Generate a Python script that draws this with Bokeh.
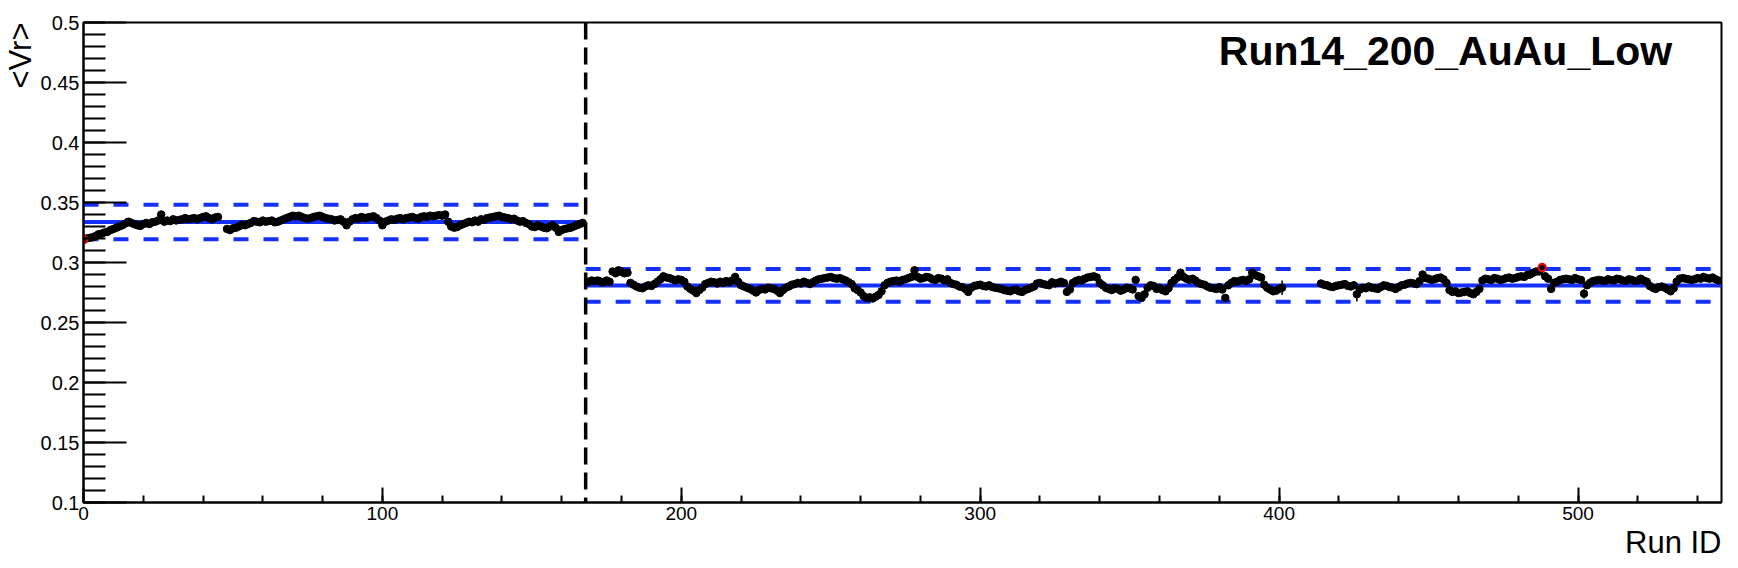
import math
import numpy as np
from bokeh.plotting import figure
from bokeh.models import (Range1d, FixedTicker, CustomJSTickFormatter, Span, Label, Title,
                          ColumnDataSource)
from bokeh.embed import file_html
from bokeh.resources import INLINE

nan = float("nan")

# ---------------- data ----------------
title_text = "Run14_200_AuAu_Low"
x_title = "Run ID"
y_title = "<Vr>"

x_ticks = [0, 100, 200, 300, 400, 500]
y_ticks = [0.1, 0.15, 0.2, 0.25, 0.3, 0.35, 0.4, 0.45, 0.5]

run_start_1 = 0
vr_period1 = [
    0.3190, 0.3200, 0.3205, 0.3210,
    0.322, 0.3235, 0.324, 0.325, 0.3255, 0.327, 0.328, 0.329, 0.330, 0.331, 0.3325, 0.334,
    0.333, 0.332, 0.331, 0.3305, 0.332, 0.333, 0.332, 0.3335, 0.334, 0.335,
    0.340,
    0.334, 0.335, 0.3345, 0.336, 0.335, 0.3355, 0.336, 0.337, 0.336, 0.3365, 0.337, 0.336, 0.337,
    0.338, 0.3385, 0.337, 0.336, 0.3375, 0.338,
    nan, nan,
    0.328, 0.327, 0.3285, 0.329, 0.330, 0.3315, 0.331,
    0.332, 0.333, 0.3345, 0.334, 0.3335, 0.335, 0.334, 0.3345, 0.335, 0.3335, 0.334, 0.335, 0.336,
    0.337, 0.338, 0.339, 0.3385, 0.339, 0.338, 0.337, 0.3365, 0.337, 0.338, 0.3385, 0.339, 0.338,
    0.337, 0.3365, 0.336, 0.335, 0.3355, 0.336, 0.334,
    0.331,
    0.334, 0.336, 0.337, 0.3365, 0.338, 0.337, 0.3375, 0.338, 0.3385, 0.337, 0.335,
    0.331,
    0.334, 0.335, 0.336, 0.3355, 0.3365, 0.337, 0.336, 0.337, 0.3375, 0.338, 0.337, 0.3365, 0.338,
    0.3385, 0.338, 0.339, 0.3385, 0.339, 0.3395, 0.339, 0.340,
    0.334, 0.330, 0.329, 0.3295, 0.331,
    0.332, 0.333, 0.334, 0.3335, 0.335, 0.334, 0.336, 0.3355, 0.337, 0.3375, 0.338, 0.3385, 0.339,
    0.338, 0.3375, 0.337, 0.336, 0.3365, 0.335, 0.334, 0.3345, 0.333, 0.332,
    0.330, 0.3295, 0.331, 0.330, 0.329, 0.3285, 0.330, 0.331, 0.329, 0.3255,
    0.327, 0.328, 0.3285, 0.329, 0.330, 0.331, 0.332, 0.333,
]

run_start_2 = 169
vr_period2 = [
    0.284, 0.285, 0.2845, 0.285, 0.284, 0.2835, 0.285, 0.284,
    0.2925, 0.291, 0.2935, 0.292, 0.291, 0.2915,
    0.283, 0.2815, 0.280, 0.279, 0.2785, 0.280, 0.281, 0.2805, 0.282,
    0.284, 0.286, 0.2885, 0.2875, 0.287, 0.286, 0.285, 0.286, 0.2855, 0.284,
    0.280, 0.278, 0.2765, 0.2745, 0.277, 0.279,
    0.282, 0.283, 0.284, 0.2835, 0.2825, 0.284, 0.283, 0.2845, 0.2835, 0.285, 0.288, 0.284,
    0.281, 0.280, 0.279, 0.278, 0.2765, 0.275, 0.277, 0.278, 0.2775, 0.279, 0.2785, 0.278,
    0.2765, 0.2745, 0.277, 0.279, 0.280, 0.2815,
    0.282, 0.283, 0.2825, 0.284, 0.283, 0.282, 0.2835,
    0.285, 0.286, 0.2865, 0.287, 0.2875, 0.288, 0.287, 0.2865, 0.287, 0.286, 0.285, 0.2835, 0.282,
    0.2785, 0.277, 0.275, 0.272, 0.2705, 0.271, 0.270, 0.2715, 0.273, 0.276,
    0.281, 0.283, 0.284, 0.2845, 0.285, 0.284, 0.2855, 0.286, 0.287, 0.288,
    0.2935,
    0.288, 0.2865, 0.287, 0.288, 0.2875, 0.286, 0.2855, 0.287, 0.2865, 0.285, 0.286,
    0.283, 0.282, 0.2815, 0.280, 0.2795, 0.278, 0.2755, 0.279, 0.2805, 0.281, 0.2815, 0.2805,
    0.280, 0.281, 0.2795, 0.279, 0.2785,
    0.278, 0.277, 0.2765, 0.276, 0.277, 0.2775, 0.276, 0.2755, 0.277, 0.278, 0.279, 0.280,
    0.2825, 0.283, 0.282, 0.2815, 0.281, 0.2835, 0.2825, 0.283, 0.284, 0.283,
    0.2755, 0.2775,
    0.283, 0.2845, 0.2855, 0.285, 0.2865, 0.2875, 0.288,
    0.2885, 0.2875,
    0.283, 0.281, 0.279, 0.278, 0.277, 0.2785, 0.278, 0.2765, 0.2775, 0.279, 0.2785, 0.2775,
    0.2855,
    0.272, 0.2705, 0.2735,
    0.279, 0.281, 0.2805, 0.278, 0.279, 0.277, 0.276, 0.2785,
    0.283, 0.2855, 0.2875, 0.2915, 0.288, 0.2865, 0.2855, 0.2865, 0.285,
    0.283, 0.282, 0.2815, 0.280, 0.279, 0.2785, 0.278, 0.2795, 0.2775, 0.2705, 0.281,
    0.283, 0.2845, 0.284, 0.285, 0.2855, 0.2845, 0.286, 0.2915, 0.2895, 0.2885, 0.2875,
    0.2815, 0.279, 0.2775, 0.276, 0.2765, 0.278,
    0.279,
    nan, nan, nan, nan, nan, nan, nan, nan, nan, nan, nan, nan,
    0.2825, 0.2815, 0.281, 0.280, 0.2795, 0.2805, 0.281, 0.2815, 0.282, 0.2805, 0.280, 0.281,
    0.2735, 0.2775, 0.279, 0.2785, 0.280, 0.279, 0.2785, 0.278, 0.2795, 0.281, 0.2805, 0.2795,
    0.279, 0.278, 0.2795, 0.281, 0.2815, 0.2825, 0.283, 0.2825, 0.282,
    0.2845, 0.290, 0.287, 0.2865, 0.2855, 0.286, 0.287, 0.2875, 0.286, 0.283,
    0.277, 0.2755, 0.276, 0.2745, 0.275, 0.2755, 0.276, 0.2745, 0.2735, 0.2755, 0.278,
    0.285, 0.2865, 0.286, 0.2855, 0.287, 0.2865, 0.2855, 0.286, 0.287, 0.2875, 0.2865, 0.287,
    0.288, 0.2885, 0.288, 0.2895, 0.290, 0.2915, 0.2925,
    0.2925, 0.2958,
    0.2885, 0.2865, 0.278,
    0.283, 0.284, 0.2855, 0.286, 0.2865, 0.286, 0.2855, 0.287, 0.286, 0.2855,
    0.274,
    0.281, 0.283, 0.2845, 0.285, 0.2855, 0.285, 0.2845, 0.286, 0.2855, 0.285, 0.2865, 0.286,
    0.285, 0.2845, 0.286, 0.2855, 0.2845, 0.285, 0.2865, 0.285, 0.284,
    0.2805, 0.279, 0.278, 0.2795, 0.280, 0.279, 0.2775, 0.276, 0.2785,
    0.284, 0.2865, 0.287, 0.2865, 0.286, 0.2855, 0.286, 0.287, 0.2865, 0.288, 0.287, 0.2865,
    0.2875, 0.286, 0.285,
]

err_typical = 0.0012
err_large = {173: 0.004, 357: 0.003, 389: 0.003, 401: 0.006, 426: 0.006, 502: 0.004, 458: 0.003}

period_edges = [0, 168, 548]
period_mean = [0.3337, 0.2809]
period_band = [0.0144, 0.0137]
split_run = 168

# ---------------- build ----------------
runs, vals = [], []
for start, arr in ((run_start_1, vr_period1), (run_start_2, vr_period2)):
    for i, v in enumerate(arr):
        if not math.isnan(v):
            runs.append(start + i)
            vals.append(v)
runs = np.array(runs, dtype=float)
vals = np.array(vals)
errs = np.array([err_large.get(int(r), err_typical) for r in runs])

outlier = np.zeros(len(runs), dtype=bool)
for k in range(len(period_mean)):
    m = (runs >= period_edges[k]) & (runs < period_edges[k + 1])
    outlier |= m & (np.abs(vals - period_mean[k]) > period_band[k])

font = "Liberation Sans"
W, H = 1730, 568
p = figure(width=W, height=H, output_backend="svg", toolbar_location=None,
           x_range=Range1d(period_edges[0], period_edges[-1]), y_range=Range1d(y_ticks[0], y_ticks[-1]),
           min_border_left=83, min_border_right=9, min_border_top=22, min_border_bottom=66)
p.title = None
p.xgrid.visible = False
p.ygrid.visible = False
p.outline_line_color = "black"
p.outline_line_width = 2
p.background_fill_color = "white"
p.border_fill_color = "white"

xa = p.xaxis[0]
xa.ticker = FixedTicker(ticks=x_ticks, minor_ticks=list(range(0, 548, 20)))
xa.major_tick_in = 15
xa.major_tick_out = 0
xa.minor_tick_in = 7
xa.minor_tick_out = 0
xa.axis_line_width = 2
xa.axis_line_color = "black"
xa.major_tick_line_color = "black"
xa.minor_tick_line_color = "black"
xa.major_tick_line_width = 2
xa.minor_tick_line_width = 2
xa.major_label_text_font = font
xa.major_label_text_font_size = "19px"
xa.major_label_text_color = "black"
xa.major_label_standoff = 4

ya = p.yaxis[0]
ya.ticker = FixedTicker(ticks=y_ticks, minor_ticks=[round(0.1 + 0.01 * i, 2) for i in range(41)])
ya.formatter = CustomJSTickFormatter(code="return String(Math.round(tick*100)/100)")
ya.major_tick_in = 43
ya.major_tick_out = 0
ya.minor_tick_in = 22
ya.minor_tick_out = 0
ya.axis_line_width = 2
ya.axis_line_color = "black"
ya.major_tick_line_color = "black"
ya.minor_tick_line_color = "black"
ya.major_tick_line_width = 2
ya.minor_tick_line_width = 2
ya.major_label_text_font = font
ya.major_label_text_font_size = "20px"
ya.major_label_text_color = "black"
ya.major_label_standoff = 4

p.add_layout(Title(text=x_title, align="right", text_font=font, text_font_size="31px",
                   text_font_style="normal", text_color="black", standoff=0), "below")
p.add_layout(Title(text=y_title, align="right", text_font=font, text_font_size="31px",
                   text_font_style="normal", text_color="black", standoff=0), "left")

blue = "#1430ff"
seg = ColumnDataSource(dict(
    x0=period_edges[:-1], x1=period_edges[1:], m=period_mean,
    lo=[a - b for a, b in zip(period_mean, period_band)],
    hi=[a + b for a, b in zip(period_mean, period_band)],
))
p.segment("x0", "m", "x1", "m", source=seg, line_color=blue, line_width=4)
p.segment("x0", "hi", "x1", "hi", source=seg, line_color=blue, line_width=4, line_dash="15 15")
p.segment("x0", "lo", "x1", "lo", source=seg, line_color=blue, line_width=4, line_dash="15 15")

p.add_layout(Span(location=split_run, dimension="height", line_color="black",
                  line_width=3.5, line_dash="17 8"))

src = ColumnDataSource(dict(x=runs, y=vals, lo=vals - errs, hi=vals + errs))
p.segment("x", "lo", "x", "hi", source=src, line_color="black", line_width=1.5)
p.scatter("x", "y", source=src, marker="circle", size=7.5, fill_color="black", line_color="black")

osrc = ColumnDataSource(dict(x=runs[outlier], y=vals[outlier]))
p.scatter("x", "y", source=osrc, marker="circle", size=7.5, fill_color=None, line_color="red", line_width=2)

p.add_layout(Label(x=531.5, y=0.4765, text=title_text, text_align="right", text_baseline="alphabetic",
                   text_font=font, text_font_style="bold", text_font_size="41px", text_color="black"))

open("out.html", "w").write(file_html(p, INLINE))
